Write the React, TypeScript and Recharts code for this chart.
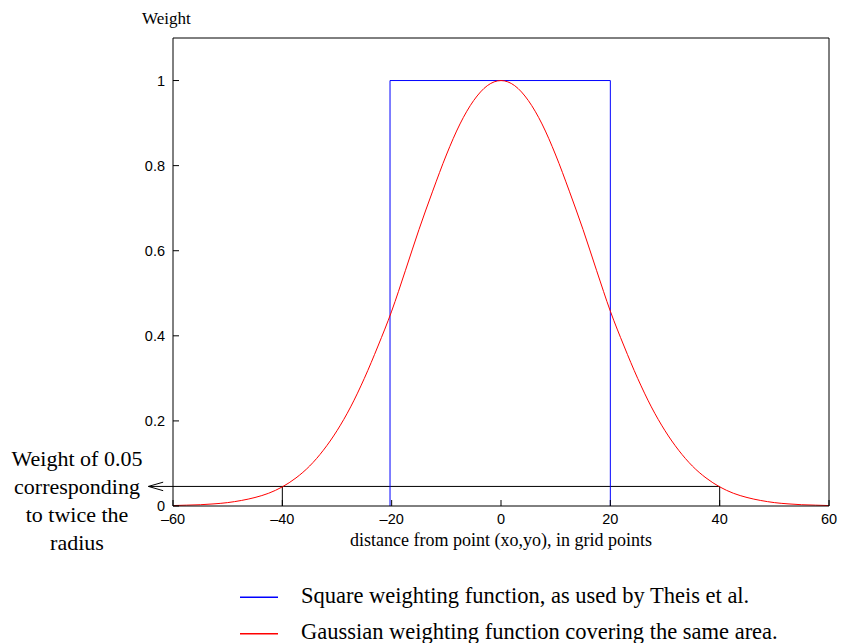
import {LineChart, Line, XAxis, YAxis, ReferenceLine} from 'recharts';

// gaussian curve, every 2.5 grid points
const gaussX = [-60, -57.5, -55, -52.5, -50, -47.5, -45, -42.5, -40, -37.5, -35, -32.5, -30, -27.5, -25, -22.5, -20, -17.5, -15, -12.5, -10, -7.5, -5, -2.5,
  0, 2.5, 5, 7.5, 10, 12.5, 15, 17.5, 20, 22.5, 25, 27.5, 30, 32.5, 35, 37.5, 40, 42.5, 45, 47.5, 50, 52.5, 55, 57.5, 60];
const gaussW = [0.001, 0.002, 0.003, 0.005, 0.008, 0.013, 0.02, 0.03, 0.045, 0.066, 0.094, 0.131, 0.177, 0.233, 0.3, 0.376, 0.458, 0.553, 0.65, 0.74, 0.825, 0.898, 0.953, 0.988,
  1, 0.988, 0.953, 0.898, 0.825, 0.74, 0.65, 0.553, 0.458, 0.376, 0.3, 0.233, 0.177, 0.131, 0.094, 0.066, 0.045, 0.03, 0.02, 0.013, 0.008, 0.005, 0.003, 0.002, 0.001];

// square window (Theis et al.)
const squareX = [-20.3, -20.3, 20, 20];
const squareW = [0, 1, 1, 0];

// 0.05 weight marker
const cutWeight = 0.046;
const cutLeft = -40;
const cutRight = 40;
const arrowTip = -64.5;
const arrowTail = -61.8;
const arrowSpread = 0.01;

const xTicks = [-60, -40, -20, 0, 20, 40, 60];
const yTicks = [0, 0.2, 0.4, 0.6, 0.8, 1];

const seriesNames = ['Square weighting function, as used by Theis et al.', 'Gaussian weighting function covering the same area.'];
const seriesColors = ['#0000ff', '#ff0000'];
const noteLines = ['Weight of 0.05', 'corresponding', 'to twice the', 'radius'];

const gaussData = gaussX.map((x, i) => ({x, w: gaussW[i]}));
const squareData = squareX.map((x, i) => ({x, w: squareW[i]}));

const serif = '"Liberation Serif", "Times New Roman", serif';
const sans = '"Liberation Sans", Arial, sans-serif';
const tickStyle = {fontFamily: sans, fontSize: 14.5, fill: '#000'};
const dash = (v: number) => String(v).replace('-', '\u2013');

// legend rows (top of the sample swatch, text baseline)
const legendLineY = [596.5, 633];
const legendTextY = [603, 639];

export default function App() {
  return <div style={{position: 'absolute', left: 0, top: 0, width: 841, height: 643, background: '#fff'}}>
    <LineChart width={841} height={643} margin={{top: 37, right: 11, bottom: 107, left: 113}}>
      <XAxis xAxisId="b" dataKey="x" type="number" domain={[-60, 60]} ticks={xTicks} height={30}
        tickSize={-6} tickMargin={14} tickFormatter={dash} tick={tickStyle}
        stroke="#000" tickLine={{stroke: '#000'}} allowDuplicatedCategory={false} />
      <XAxis xAxisId="t" dataKey="x" type="number" orientation="top" domain={[-60, 60]} ticks={xTicks} height={1}
        tickSize={-6} tickMargin={2} tick={() => null} stroke="#000" tickLine={{stroke: '#000'}} />
      <YAxis yAxisId="l" type="number" domain={[0, 1.1]} ticks={yTicks} width={60}
        tickSize={-6} tickMargin={14} tick={tickStyle} stroke="#000" tickLine={{stroke: '#000'}} />
      <YAxis yAxisId="r" type="number" orientation="right" domain={[0, 1.1]} ticks={yTicks} width={1}
        tickSize={-6} tickMargin={2} tick={() => null} stroke="#000" tickLine={{stroke: '#000'}} />

      <ReferenceLine xAxisId="b" yAxisId="l" ifOverflow="visible" stroke="#000" strokeWidth={1}
        segment={[{x: arrowTip, y: cutWeight}, {x: cutRight, y: cutWeight}]} />
      <ReferenceLine xAxisId="b" yAxisId="l" ifOverflow="visible" stroke="#000" strokeWidth={1}
        segment={[{x: arrowTip, y: cutWeight}, {x: arrowTail, y: cutWeight + arrowSpread}]} />
      <ReferenceLine xAxisId="b" yAxisId="l" ifOverflow="visible" stroke="#000" strokeWidth={1}
        segment={[{x: arrowTip, y: cutWeight}, {x: arrowTail, y: cutWeight - arrowSpread}]} />
      <ReferenceLine xAxisId="b" yAxisId="l" ifOverflow="visible" stroke="#000" strokeWidth={1}
        segment={[{x: cutLeft, y: 0}, {x: cutLeft, y: cutWeight}]} />
      <ReferenceLine xAxisId="b" yAxisId="l" ifOverflow="visible" stroke="#000" strokeWidth={1}
        segment={[{x: cutRight, y: 0}, {x: cutRight, y: cutWeight}]} />

      <Line xAxisId="b" yAxisId="l" data={squareData} dataKey="w" type="linear" stroke={seriesColors[0]}
        strokeWidth={1} dot={false} isAnimationActive={false} />
      <Line xAxisId="b" yAxisId="l" data={gaussData} dataKey="w" type="monotone" stroke={seriesColors[1]}
        strokeWidth={1} dot={false} isAnimationActive={false} />
    </LineChart>

    <svg width={841} height={643} style={{position: 'absolute', left: 0, top: 0, pointerEvents: 'none'}}>
      <text x={142} y={24} fontFamily={serif} fontSize={17}>Weight</text>
      <text x={501} y={546} fontFamily={serif} fontSize={18} textAnchor="middle">
        distance from point (xo,yo), in grid points
      </text>
      {noteLines.map((t, i) =>
        <text key={t} x={77} y={466 + i * 28} fontFamily={serif} fontSize={22} textAnchor="middle">{t}</text>)}
      {seriesNames.map((name, i) => <g key={name}>
        <rect x={240} y={legendLineY[i]} width={38} height={1.5} fill={seriesColors[i]} />
        <text x={301} y={legendTextY[i]} fontFamily={serif} fontSize={22.5}>{name}</text>
      </g>)}
    </svg>
  </div>;
}
